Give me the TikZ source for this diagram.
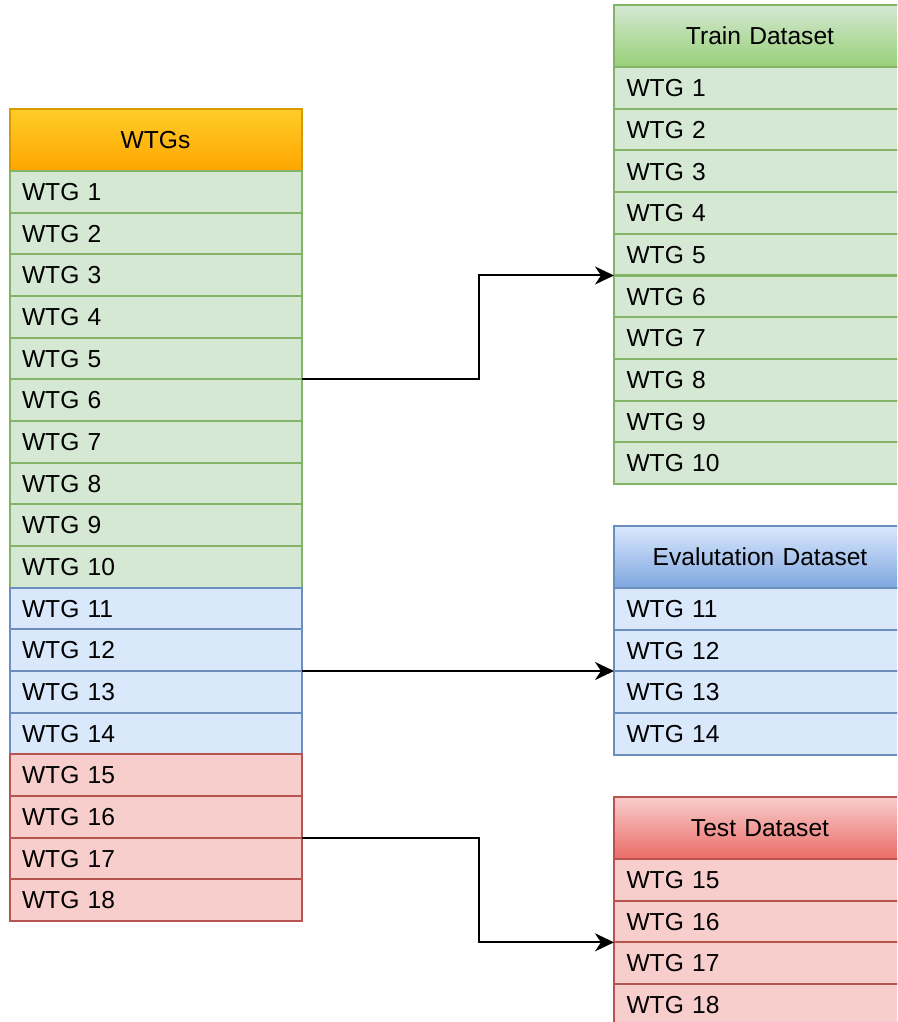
\documentclass[tikz,border=0pt]{standalone}
\usepackage{fontspec}
\setmainfont{Liberation Sans}
\usetikzlibrary{arrows.meta}
\definecolor{gfill}{HTML}{D5E8D4}
\definecolor{gline}{HTML}{82B366}
\definecolor{gdark}{HTML}{97D077}
\definecolor{bfill}{HTML}{DAE8FC}
\definecolor{bline}{HTML}{6C8EBF}
\definecolor{bdark}{HTML}{7EA6E0}
\definecolor{rfill}{HTML}{F8CECC}
\definecolor{rline}{HTML}{B85450}
\definecolor{rdark}{HTML}{EA6B66}
\definecolor{otop}{HTML}{FFCD28}
\definecolor{obot}{HTML}{FFA500}
\definecolor{oline}{HTML}{D79B00}
\begin{document}
\begin{tikzpicture}[x=1pt,y=-1pt,
  cell/.style={rectangle, draw, line width=2pt, outer sep=0pt,
    minimum height=41.667pt, text width=267pt, inner xsep=12.5pt, inner ysep=0pt,
    text height=17.6pt, text depth=0pt, align=left,
    font=\fontsize{24.6}{29}\selectfont},
  head/.style={cell, minimum height=62pt, align=center},
  greencell/.style={cell, fill=gfill, draw=gline},
  bluecell/.style={cell, fill=bfill, draw=bline},
  redcell/.style={cell, fill=rfill, draw=rline},
  conn/.style={draw=black, line width=2pt, -{Stealth[length=19pt, width=18pt, inset=6pt]}}
]
\useasboundingbox (0,0) rectangle (897,1022);
\clip (0,0) rectangle (897,1022);

% source table
\node[head, draw=oline, top color=otop, bottom color=obot] (WTGs) at (155.5,140) {WTGs};
\foreach \i in {1,...,10}
  \node[greencell] (L\i) at (155.5,{171+(\i-0.5)*41.667}) {WTG \i};
\foreach \i in {11,...,14}
  \node[bluecell] (L\i) at (155.5,{171+(\i-0.5)*41.667}) {WTG \i};
\foreach \i in {15,...,18}
  \node[redcell] (L\i) at (155.5,{171+(\i-0.5)*41.667}) {WTG \i};

% train split
\node[head, draw=gline, top color=gfill, bottom color=gdark] (train) at (760,36) {Train Dataset};
\foreach \i in {1,...,10}
  \node[greencell] (T\i) at (760,{67+(\i-0.5)*41.7}) {WTG \i};

% evaluation split
\node[head, draw=bline, top color=bfill, bottom color=bdark] (eval) at (760,557) {Evalutation Dataset};
\foreach \i in {11,...,14}
  \node[bluecell] (E\i) at (760,{588+(\i-10.5)*41.667}) {WTG \i};

% test split
\node[head, draw=rline, top color=rfill, bottom color=rdark] (test) at (760,828) {Test Dataset};
\foreach \i in {15,...,18}
  \node[redcell] (S\i) at (760,{859+(\i-14.5)*41.667}) {WTG \i};

% connectors
\coordinate (elbow) at (479,0);
\draw[conn] (L5.south east) -| (elbow |- T5.south west) -- (T5.south west);
\draw[conn] (L12.south east) -- (L12.south east -| E12.south west);
\draw[conn] (L16.south east) -| (elbow |- S16.south west) -- (S16.south west);
\end{tikzpicture}
\end{document}
